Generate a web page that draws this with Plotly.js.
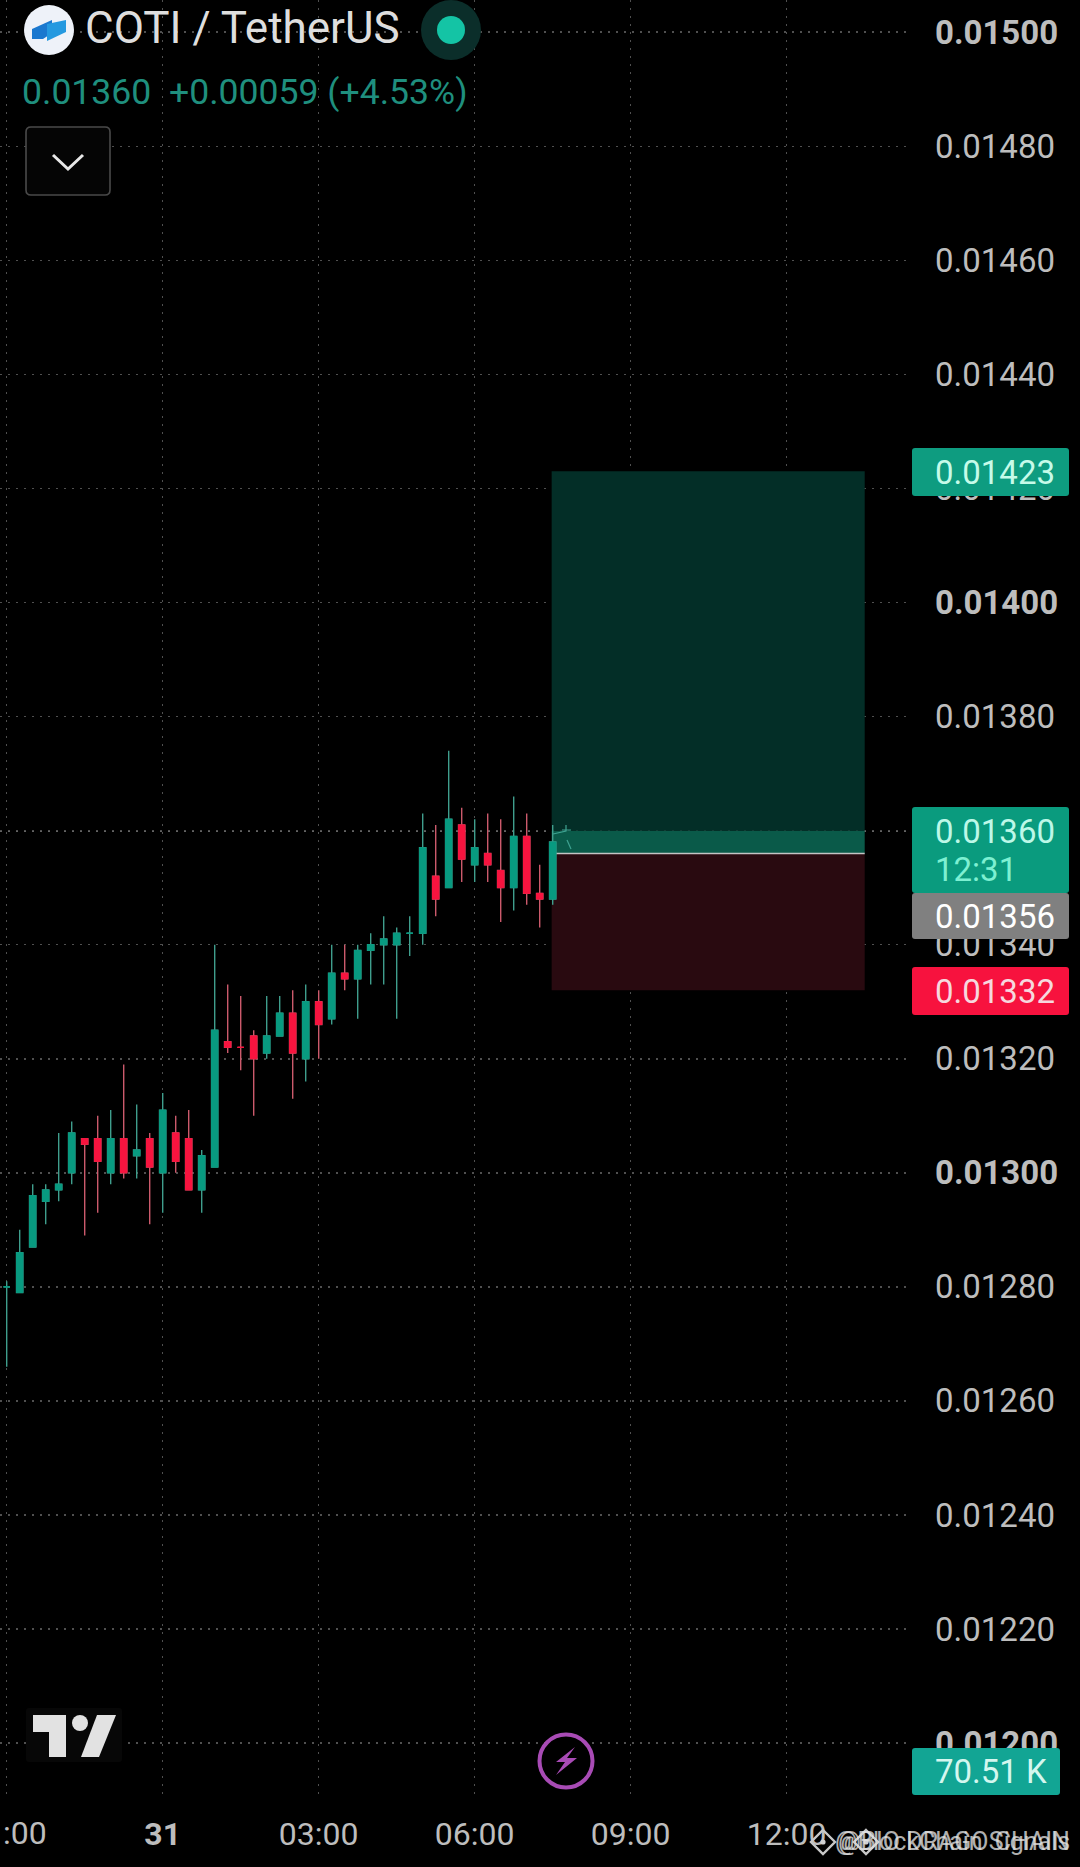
<!DOCTYPE html>
<html>
<head>
<meta charset="utf-8">
<script src="https://cdn.plot.ly/plotly-3.0.1.min.js"></script>
<style>html,body{margin:0;padding:0;background:#000;overflow:hidden}#chart{width:1080px;height:1867px}</style>
</head>
<body>
<div id="chart"></div>
<script>
// 15-minute candles, 30th 21:00 to 31st 07:30
const times = ["21:00","21:15","21:30","21:45","22:00","22:15","22:30","22:45","23:00","23:15","23:30","23:45",
  "00:00","00:15","00:30","00:45","01:00","01:15","01:30","01:45","02:00","02:15","02:30","02:45",
  "03:00","03:15","03:30","03:45","04:00","04:15","04:30","04:45","05:00","05:15","05:30","05:45",
  "06:00","06:15","06:30","06:45","07:00","07:15","07:30"];
const open = [0.01280,0.01279,0.01287,0.01295,0.01297,0.01300,0.01306,0.01306,0.01300,0.01306,0.01303,0.01306,
  0.01300,0.01307,0.01306,0.01297,0.01301,0.01323,0.01322,0.01324,0.01321,0.01324,0.01328,0.01320,
  0.01330,0.01327,0.01335,0.01334,0.01339,0.01340,0.01340,0.01342,0.01342,0.01352,0.01350,0.01361,
  0.01354,0.01356,0.01353,0.01350,0.01359,0.01349,0.01348];
const high = [0.01281,0.01290,0.01298,0.01298,0.01307,0.01309,0.01306,0.01310,0.01311,0.01319,0.01312,0.01307,
  0.01314,0.01310,0.01311,0.01304,0.01340,0.01333,0.01331,0.01325,0.01331,0.01331,0.01332,0.01333,
  0.01332,0.01340,0.01340,0.01340,0.01342,0.01345,0.01343,0.01345,0.01363,0.01361,0.01374,0.01364,
  0.01362,0.01363,0.01362,0.01366,0.01363,0.01354,0.01361];
const low = [0.01266,0.01279,0.01287,0.01291,0.01295,0.01298,0.01289,0.01293,0.01298,0.01299,0.01299,0.01291,
  0.01293,0.01300,0.01297,0.01293,0.01301,0.01321,0.01318,0.01310,0.01320,0.01324,0.01313,0.01316,
  0.01320,0.01326,0.01332,0.01327,0.01333,0.01333,0.01327,0.01338,0.01340,0.01345,0.01350,0.01351,
  0.01351,0.01351,0.01344,0.01346,0.01347,0.01343,0.01347];
const close = [0.01280,0.01286,0.01296,0.01297,0.01298,0.01307,0.01305,0.01302,0.01306,0.01300,0.01304,0.01301,
  0.01311,0.01302,0.01297,0.01303,0.01325,0.01322,0.01322,0.01320,0.01324,0.01328,0.01321,0.01330,
  0.01326,0.01335,0.01334,0.01339,0.01340,0.01341,0.01342,0.01342,0.01357,0.01348,0.01362,0.01355,
  0.01357,0.01354,0.01350,0.01359,0.01349,0.01348,0.01358];

const priceTicks = [0.0150,0.0148,0.0146,0.0144,0.0142,0.0140,0.0138,0.0136,0.0134,0.0132,0.0130,0.0128,0.0126,0.0124,0.0122,0.0120];
const priceTickLabels = ["<b>0.01500</b>","0.01480","0.01460","0.01440","0.01420","<b>0.01400</b>","0.01380","0.01360","0.01340","0.01320","<b>0.01300</b>","0.01280","0.01260","0.01240","0.01220","<b>0.01200</b>"];
const timeTickLabels = ["","<b>31</b>","03:00","06:00","09:00","12:00"];
const timeTickPositions = [0,12,24,36,48,60];
const firstTimeLabel = "21:00";

const lastPrice = 0.01360, entryPrice = 0.01356, targetPrice = 0.01423, stopPrice = 0.01332;
const volumeLabel = "70.51 K", countdown = "12:31";
const changeLabel = "0.01360  +0.00059 (+4.53%)";
const symbol = "COTI / TetherUS";

const PW = 908, PH = 1797;
const X = v => v / PW, Y = v => 1 - v / PH;
const idx = times.map((_, i) => i);
const bodyLow = open.map((o, i) => Math.min(o, close[i]));
const bodyHigh = open.map((o, i) => Math.max(o, close[i]));
const GREEN = "#089a80", RED = "#f7143f";

const wicks = {type:"candlestick", x:idx, open, high, low, close, hoverinfo:"skip",
  increasing:{line:{color:"#3f9e8d", width:1.4}, fillcolor:GREEN},
  decreasing:{line:{color:"#cc5a6c", width:1.4}, fillcolor:RED}, whiskerwidth:0, showlegend:false};
const bodies = {type:"candlestick", x:idx, open, high:bodyHigh, low:bodyLow, close, hoverinfo:"skip",
  increasing:{line:{color:GREEN, width:1}, fillcolor:GREEN},
  decreasing:{line:{color:RED, width:1}, fillcolor:RED}, whiskerwidth:0, showlegend:false};

function poly(pts){ return "M" + pts.map(p => X(p[0]) + "," + Y(p[1])).join("L") + "Z"; }
function open_poly(pts){ return "M" + pts.map(p => X(p[0]) + "," + Y(p[1])).join("L"); }
function rrect(x0,y0,x1,y1,r){
  return "M"+X(x0+r)+","+Y(y0)+"L"+X(x1-r)+","+Y(y0)+"Q"+X(x1)+","+Y(y0)+" "+X(x1)+","+Y(y0+r)+
    "L"+X(x1)+","+Y(y1-r)+"Q"+X(x1)+","+Y(y1)+" "+X(x1-r)+","+Y(y1)+
    "L"+X(x0+r)+","+Y(y1)+"Q"+X(x0)+","+Y(y1)+" "+X(x0)+","+Y(y1-r)+
    "L"+X(x0)+","+Y(y0+r)+"Q"+X(x0)+","+Y(y0)+" "+X(x0+r)+","+Y(y0)+"Z";
}
const pathShape = (path, fill, extra) => Object.assign({type:"path", xref:"paper", yref:"paper", path, fillcolor:fill, line:{width:0}, layer:"above"}, extra||{});
const circle = (cx,cy,r,fill,line) => ({type:"circle", xref:"paper", yref:"paper", x0:X(cx-r), x1:X(cx+r), y0:Y(cy+r), y1:Y(cy-r), fillcolor:fill, line:line||{width:0}, layer:"above"});

const rx0 = 41.92, rx1 = 66.0;
const shapes = [
  {type:"rect", xref:"x", yref:"y", x0:rx0, x1:rx1, y0:lastPrice, y1:targetPrice, fillcolor:"#032e27", line:{width:0}, layer:"between"},
  {type:"rect", xref:"x", yref:"y", x0:rx0, x1:rx1, y0:entryPrice, y1:lastPrice, fillcolor:"#0a5a49", line:{width:0}, layer:"between"},
  {type:"rect", xref:"x", yref:"y", x0:rx0, x1:rx1, y0:stopPrice, y1:entryPrice, fillcolor:"#290a10", line:{width:0}, layer:"between"},
  {type:"line", xref:"x", yref:"y", x0:rx0, x1:rx1, y0:entryPrice, y1:entryPrice, line:{color:"#c4c4c4", width:1.6}, layer:"between"},
  {type:"line", xref:"paper", yref:"y", x0:0, x1:X(912), y0:lastPrice, y1:lastPrice, line:{color:"#c8c8c8", width:1.5, dash:"2px,6px"}, layer:"between"},
  // small drawing mark beside the last candle
  pathShape(open_poly([[553,834],[566,831],[566,825],[566,830],[562,830],[571,830]]), "rgba(0,0,0,0)", {line:{color:"#3fa392", width:1.2}}),
  pathShape(open_poly([[567,840],[571,849]]), "rgba(0,0,0,0)", {line:{color:"#3fa392", width:1.2}}),
  // price boxes
  pathShape(rrect(912,448,1069,496,3), "#0e9c80"),
  pathShape(rrect(912,807,1069,893,3), "#0a9b7e"),
  pathShape(rrect(912,893,1069,939,3), "#808080"),
  pathShape(rrect(912,967,1069,1015,3), "#f7123e"),
  pathShape(rrect(912,1748,1060,1795,3), "#12a594"),
  // symbol logo
  circle(49,30,25,"#eef2f9"),
  pathShape(poly([[32,29],[52,20],[52,33],[43,39],[32,39]]), "#1a78cf"),
  pathShape(poly([[47,24],[66,20],[66,32],[47,41]]), "#2499e0"),
  // status dot
  circle(451,30,30,"#0b2e2a"),
  circle(451,30,14,"#14c4a5"),
  // collapse button
  pathShape(rrect(26,127,110,195,5), "#050505", {line:{color:"#4a4a4a", width:1.6}}),
  pathShape(open_poly([[53,155],[68,169],[83,155]]), "rgba(0,0,0,0)", {line:{color:"#e8e8e8", width:3}}),
  // watermark logo
  pathShape(rrect(26,1708,122,1762,3), "#070707"),
  pathShape(poly([[33,1715],[66,1715],[66,1757],[49,1757],[49,1732],[33,1732]]), "#e2e2e2"),
  circle(80,1723,8,"#e2e2e2"),
  pathShape(poly([[97,1715],[116,1715],[99,1757],[81,1757]]), "#e2e2e2"),
  // lightning button
  circle(566,1761,26.5,"#000000",{color:"#a84bb5", width:4}),
  pathShape(poly([[575,1747],[556,1762],[565,1762],[556,1775],[577,1758],[567,1758]]), "#a84bb5"),
  // binance diamonds
  ...[823,866].flatMap(cx => [
    pathShape(poly([[cx,1830],[cx+12,1842],[cx,1854],[cx-12,1842]]), "rgba(0,0,0,0)", {line:{color:"#c8c8c8", width:2.4}}),
    circle(cx,1842,2.6,"#d0d0d0")
  ])
];

const note = (x,y,text,size,color,extra) => Object.assign({xref:"paper", yref:"paper", x:X(x), y:Y(y), text, showarrow:false, xanchor:"left", yanchor:"middle", borderpad:0, borderwidth:0, font:{family:"Roboto", size, color}}, extra||{});
const annotations = [
  note(85,28,symbol,44,"#dedede"),
  note(22,92,changeLabel,35.6,"#1f8f7e"),
  note(935,0,targetPrice.toFixed(5),33,"#c6fbe9",{yref:"y", y:targetPrice, yshift:-1}),
  note(935,0,lastPrice.toFixed(5),33,"#bdf8e8",{yref:"y", y:lastPrice, yshift:-1}),
  note(935,869,countdown,33,"#7df0d2"),
  note(935,916,entryPrice.toFixed(5),33,"#ffffff"),
  note(935,0,stopPrice.toFixed(5),33,"#f6d8de",{yref:"y", y:stopPrice, yshift:-1}),
  note(935,1771,volumeLabel,33,"#d4f7ef"),
  note(1070,1842,"@BIO DRAGO CHAIN",25,"rgba(225,225,225,0.8)",{xanchor:"right"}),
  note(1070,1842,"@BlockChain Signals",25,"rgba(225,225,225,0.8)",{xanchor:"right"}),
  note(0,1833,firstTimeLabel,32,"#bdbdbd",{xref:"x", x:timeTickPositions[0], xanchor:"center"})
];

const layout = {
  width:1080, height:1867, paper_bgcolor:"#000", plot_bgcolor:"#000",
  margin:{l:0, r:172, t:0, b:70}, showlegend:false, hovermode:false, dragmode:false, boxgap:0.3,
  xaxis:{type:"linear", range:[-0.515,69.33], tickmode:"array", tickvals:timeTickPositions, ticktext:timeTickLabels,
    showgrid:true, gridcolor:"#505050", griddash:"2px,6px", gridwidth:1.5, zeroline:false, showline:false, ticks:"",
    tickfont:{family:"Roboto", size:32, color:"#bdbdbd"}, ticklabelstandoff:15, rangeslider:{visible:false}, fixedrange:true},
  yaxis:{type:"linear", side:"right", range:[0.0119055,0.0150565], tickmode:"array", tickvals:priceTicks, ticktext:priceTickLabels,
    showgrid:true, gridcolor:"#505050", griddash:"2px,6px", gridwidth:1.5, zeroline:false, showline:false, ticks:"",
    tickfont:{family:"Roboto", size:33, color:"#bdbdbd"}, ticklabelstandoff:26, fixedrange:true},
  shapes, annotations
};
Plotly.newPlot("chart",[wicks,bodies],layout,{displayModeBar:false,staticPlot:true});
</script>
</body>
</html>
